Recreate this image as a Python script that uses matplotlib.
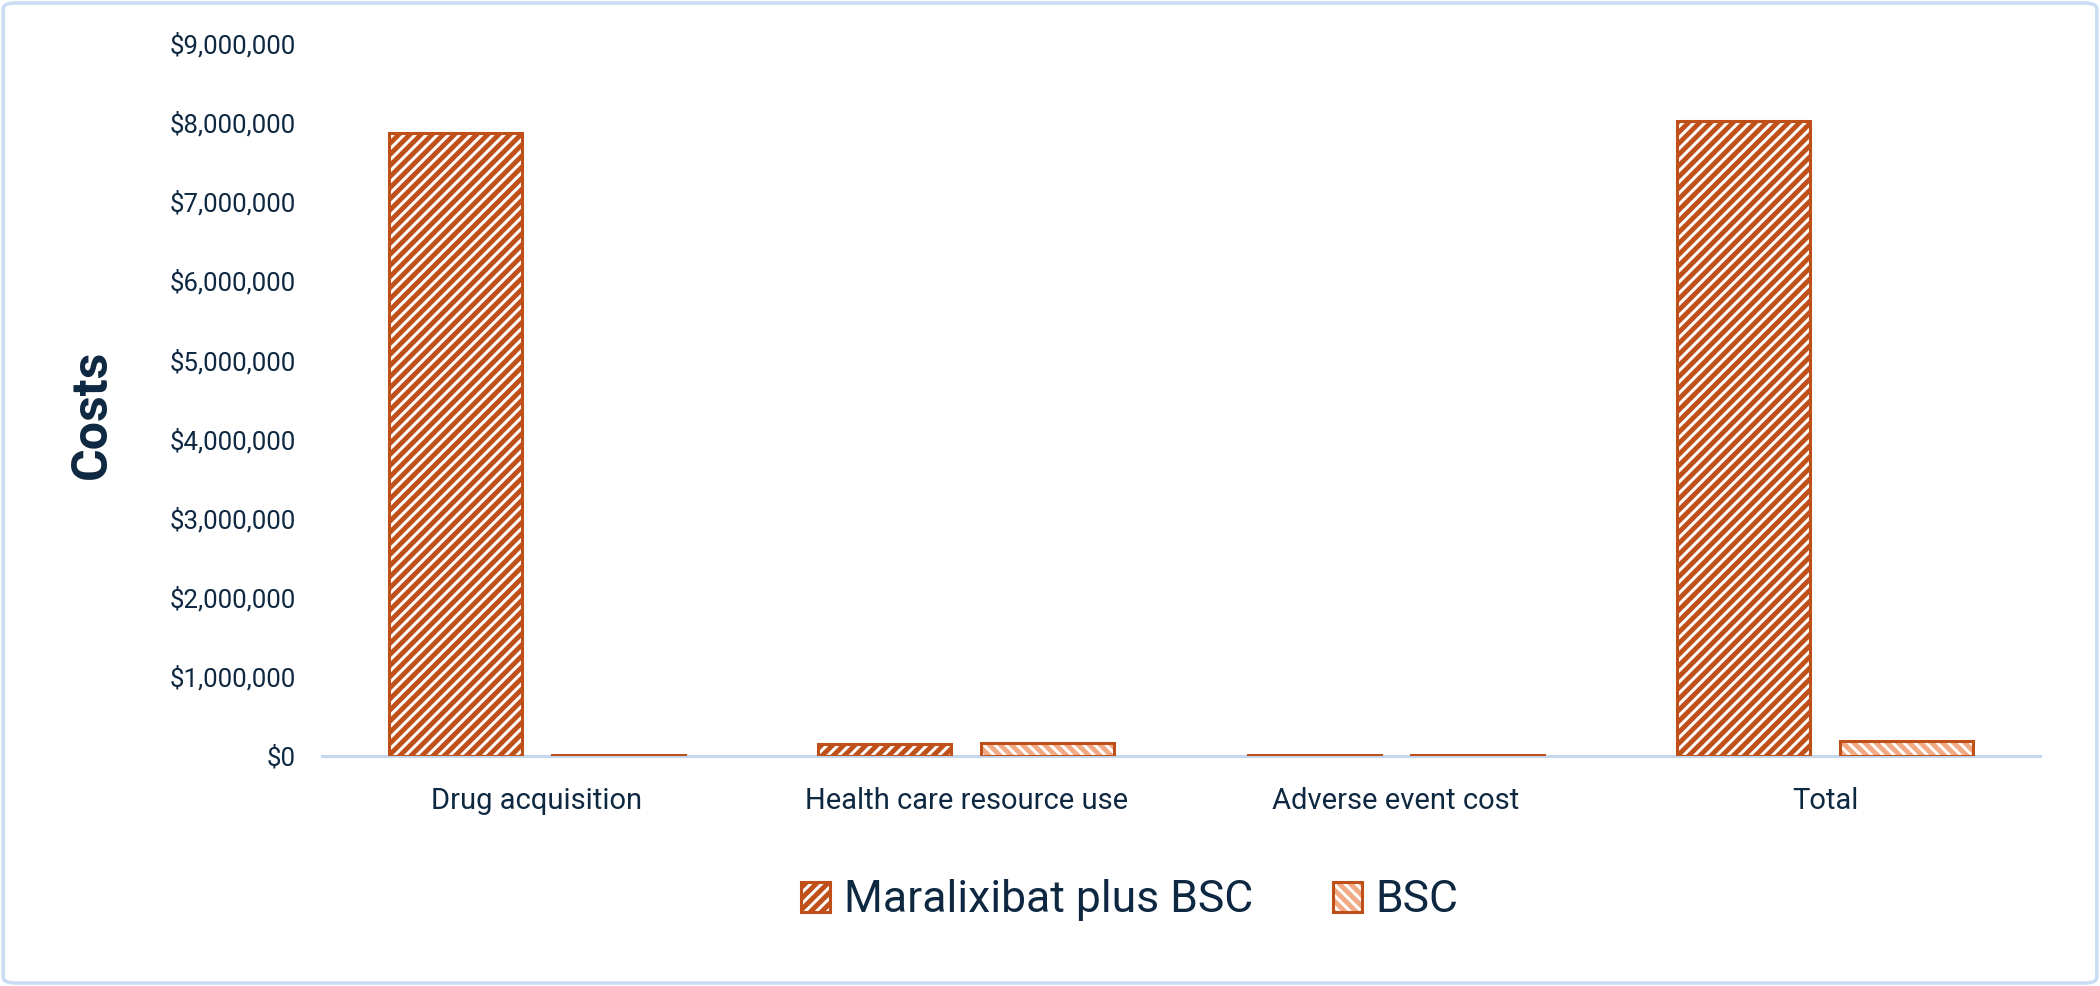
import numpy as np
import matplotlib
matplotlib.use("Agg")
import matplotlib.pyplot as plt
from matplotlib.patches import FancyBboxPatch
from matplotlib.ticker import FuncFormatter, MultipleLocator

# 数据
categories = ["Drug acquisition", "Health care resource use", "Adverse event cost", "Total"]
maralixibat_costs = [7860000, 150000, 12000, 8020000]
bsc_costs = [8000, 168000, 10000, 186000]
series_names = ["Maralixibat plus BSC", "BSC"]

# 样式
TEXT_COLOR = "#0E2841"
DARK_ORANGE = "#C0501A"
LIGHT_ORANGE = "#F2AA84"
AXIS_BLUE = "#C3D8EF"
BAR_WIDTH = 0.31
OFFSET = 0.19

plt.rcParams["font.family"] = ["Roboto", "DejaVu Sans"]
plt.rcParams["hatch.linewidth"] = 3.5

fig = plt.figure(figsize=(21, 9.86), dpi=100)
ax = fig.add_axes([0.1533, 0.2333, 0.8181, 0.7231])

x = np.arange(len(categories))

def hatched_bars(xpos, values, hatch, hatch_color):
    # 先画斜线填充, 再画深橙色边框
    fill = ax.bar(xpos, values, BAR_WIDTH, color="white", edgecolor=hatch_color,
                  hatch=hatch, linewidth=0, zorder=2)
    outline = ax.bar(xpos, values, BAR_WIDTH, color="none", edgecolor=DARK_ORANGE,
                     linewidth=2.2, zorder=3)
    return (fill[0], outline[0])

h1 = hatched_bars(x - OFFSET, maralixibat_costs, "///", DARK_ORANGE)
h2 = hatched_bars(x + OFFSET, bsc_costs, "\\\\\\", LIGHT_ORANGE)

ax.set_xlim(-0.5, len(categories) - 0.5)
ax.set_ylim(0, 9000000)
ax.yaxis.set_major_locator(MultipleLocator(1000000))
ax.yaxis.set_major_formatter(FuncFormatter(lambda v, p: "${:,.0f}".format(v)))
ax.set_xticks(x)
ax.set_xticklabels(categories)

for s in ["top", "right", "left"]:
    ax.spines[s].set_visible(False)
ax.spines["bottom"].set_color(AXIS_BLUE)
ax.spines["bottom"].set_linewidth(2.2)
ax.spines["bottom"].set_zorder(1)

ax.tick_params(axis="y", length=0, pad=19, labelsize=18.5, labelcolor=TEXT_COLOR)
ax.tick_params(axis="x", length=0, pad=22, labelsize=21, labelcolor=TEXT_COLOR)

fig.text(0.044, 0.58, "Costs", rotation=90, fontsize=36, fontweight="bold",
         color=TEXT_COLOR, ha="center", va="center")

leg = fig.legend([h1, h2], series_names, loc="center", bbox_to_anchor=(0.538, 0.087),
                 ncol=2, frameon=False, fontsize=32, handlelength=0.66, handleheight=0.66,
                 handletextpad=0.3, columnspacing=1.8, borderpad=0)
for t in leg.get_texts():
    t.set_color(TEXT_COLOR)

# 外框
border = FancyBboxPatch((0.0015, 0.003), 0.997, 0.994, boxstyle="round,pad=0,rounding_size=0.006",
                        transform=fig.transFigure, facecolor="none", edgecolor="#C9DCF1",
                        linewidth=2.5)
fig.patches.append(border)

fig.savefig("out.png", dpi=100, facecolor="white")
